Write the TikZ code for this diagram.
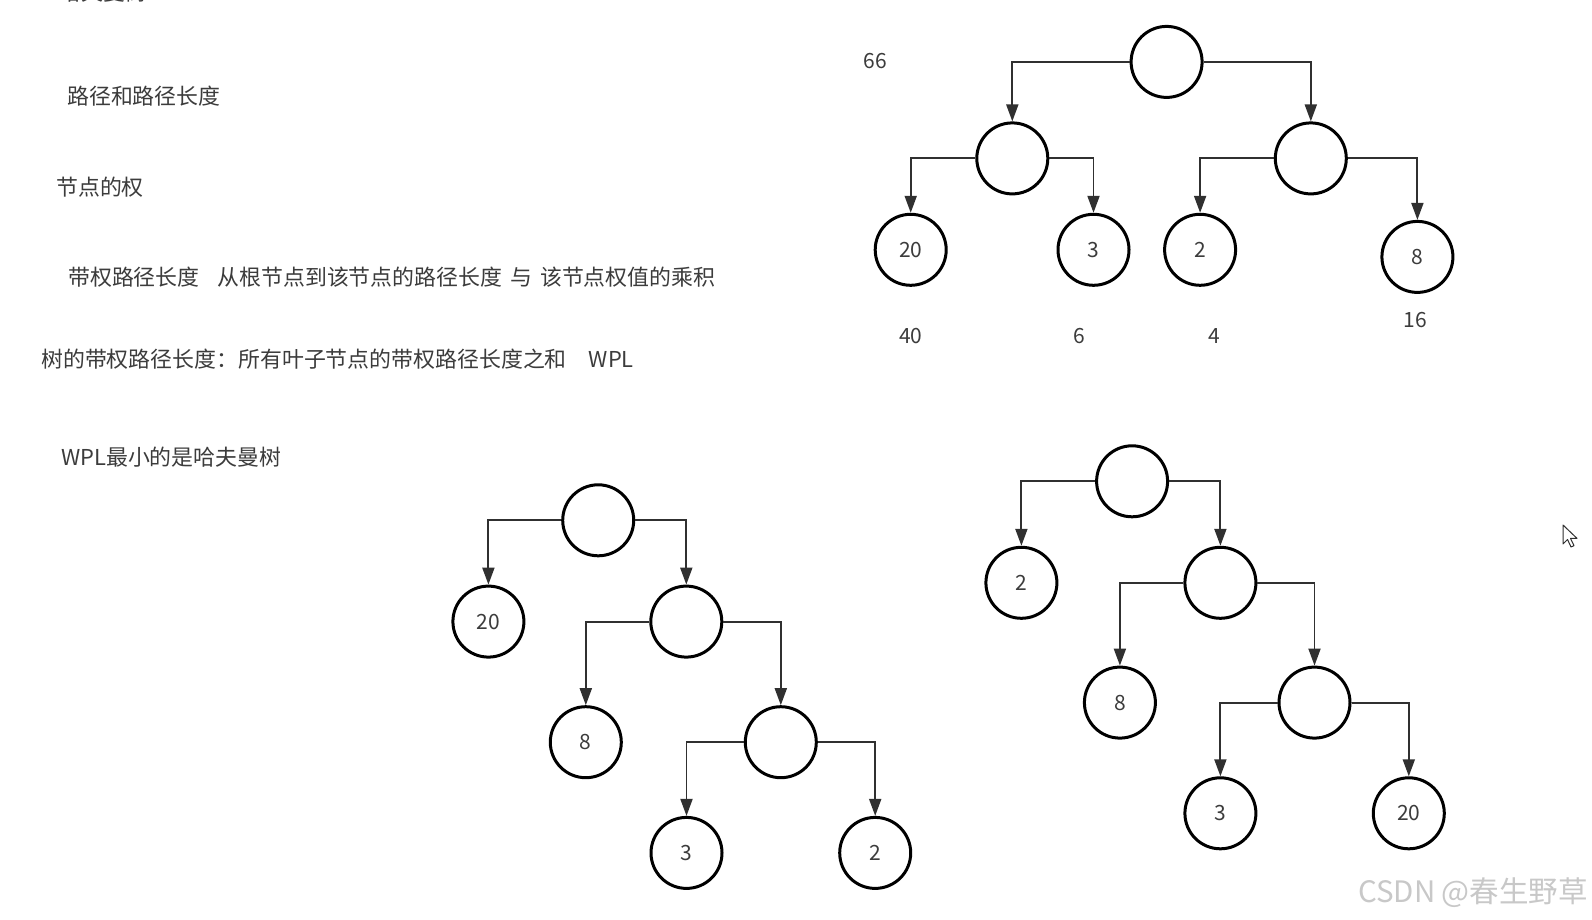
\documentclass[tikz,border=0pt]{standalone}
\usepackage{fontspec}
\setmainfont{Noto Sans CJK SC}
\usetikzlibrary{arrows.meta}
\definecolor{inkgray}{HTML}{303030}
\definecolor{txtgray}{HTML}{3C3C3C}
\definecolor{markgray}{HTML}{C8C8C8}
\tikzset{
    tnode/.style={draw=black, line width=3pt, circle, minimum size=71pt, inner sep=0pt, text=txtgray, font=\fontsize{21}{21}\selectfont},
    edge/.style={draw=inkgray, line width=1.9pt, -{Triangle[length=17pt, width=12pt]}},
    wlabel/.style={text=txtgray, inner sep=0pt, font=\fontsize{21}{21}\selectfont},
    note/.style={anchor=west, inner sep=0pt, text=txtgray, font=\fontsize{21.9}{24}\selectfont},
    % mouse pointer and watermark
    pointer/.style={draw=inkgray, fill=white, line width=1pt, line join=round},
    wmark/.style={anchor=east, inner sep=0pt, text=markgray, font=\fontsize{29.5}{30}\selectfont},
}

\begin{document}
\begin{tikzpicture}[x=1pt, y=-1pt]
    \clip (0,0) rectangle (1592,920);
    \fill[white] (0,0) rectangle (1592,920);

    % notes on the left
    \node[note] (hdr) at (59,-8) {哈夫曼树};
    \node[note] (path) at (67,96.5) {路径和路径长度};
    \node[note] (wt) at (56,187) {节点的权};
    \node[note] (wpath) at (68,277) {带权路径长度\hspace{18pt}从根节点到该节点的路径长度\hspace{8pt}与\hspace{8pt}该节点权值的乘积};
    \node[note] (wpl) at (41,359.5) {树的带权路径长度：所有叶子节点的带权路径长度之和\hspace{22pt}WPL};
    \node[note] (huff) at (61,457) {WPL最小的是哈夫曼树};

    % first tree, with the weighted lengths
    \node[tnode] (t0) at (1166.6,61.9) {};
    \node[tnode] (tl) at (1012.3,158.4) {};
    \node[tnode] (tr) at (1310.8,158.4) {};
    \node[tnode] (t20) at (910.7,249.8) {20};
    \node[tnode] (t3) at (1093.5,249.8) {3};
    \node[tnode] (t2) at (1200.1,249.8) {2};
    \node[tnode] (t8) at (1417.4,256.9) {8};

    \draw[edge] (t0.west) -| (tl.north);
    \draw[edge] (t0.east) -| (tr.north);
    \draw[edge] (tl.west) -| (t20.north);
    \draw[edge] (tl.east) -| (t3.north);
    \draw[edge] (tr.west) -| (t2.north);
    \draw[edge] (tr.east) -| (t8.north);

    \node[wlabel] (w66) at (875.2,61) {66};
    \node[wlabel] (w40) at (910.7,336) {40};
    \node[wlabel] (w6) at (1079.3,336) {6};
    \node[wlabel] (w4) at (1214.3,336) {4};
    \node[wlabel] (w16) at (1415.3,320) {16};

    % second tree
    \node[tnode] (p0) at (598.2,520.3) {};
    \node[tnode] (p20) at (488.4,621.6) {20};
    \node[tnode] (p1) at (686.3,621.6) {};
    \node[tnode] (p8) at (585.8,742.2) {8};
    \node[tnode] (p2) at (780.8,742.2) {};
    \node[tnode] (p3) at (686.5,852.9) {3};
    \node[tnode] (pb) at (875.2,852.9) {2};

    \draw[edge] (p0.west) -| (p20.north);
    \draw[edge] (p0.east) -| (p1.north);
    \draw[edge] (p1.west) -| (p8.north);
    \draw[edge] (p1.east) -| (p2.north);
    \draw[edge] (p2.west) -| (p3.north);
    \draw[edge] (p2.east) -| (pb.north);

    % third tree
    \node[tnode] (q0) at (1132.1,481.3) {};
    \node[tnode] (qb) at (1021.4,582.8) {2};
    \node[tnode] (q1) at (1220.4,582.8) {};
    \node[tnode] (q8) at (1119.9,702.6) {8};
    \node[tnode] (q2) at (1314.5,702.6) {};
    \node[tnode] (q3) at (1220.4,813.3) {3};
    \node[tnode] (q20) at (1408.8,813.3) {20};

    \draw[edge] (q0.west) -| (qb.north);
    \draw[edge] (q0.east) -| (q1.north);
    \draw[edge] (q1.west) -| (q8.north);
    \draw[edge] (q1.east) -| (q2.north);
    \draw[edge] (q2.west) -| (q3.north);
    \draw[edge] (q2.east) -| (q20.north);

    \draw[pointer] (1563,525) -- ++(0,19) -- ++(4.5,-4.5) -- ++(3.5,7.5) -- ++(3,-1.4)
        -- ++(-3.5,-7.2) -- ++(6.5,0) -- cycle;
    \node[wmark] (csdn) at (1588,893) {CSDN @春生野草};
\end{tikzpicture}
\end{document}
